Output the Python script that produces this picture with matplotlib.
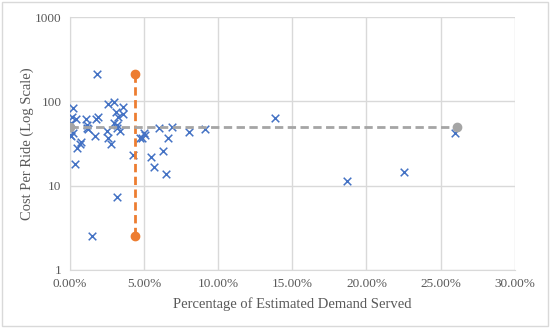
import matplotlib.pyplot as plt
from matplotlib.ticker import FuncFormatter, FixedLocator
from matplotlib.patches import Rectangle

# share of estimated demand served (%) and cost per ride
pct = [1.82, 0.20, 0.13, 0.40, 0.07, 0.20, 0.67, 0.47, 0.34, 1.08,
       1.15, 1.15, 1.20, 1.90, 1.75, 1.70, 2.50, 2.56, 2.80, 2.56,
       2.96, 3.10, 3.23, 3.57, 3.57, 3.00, 3.20, 3.20, 3.40, 4.25,
       4.85, 5.00, 5.10, 4.70, 6.00, 6.90, 6.60, 5.50, 6.30, 8.00,
       9.10, 5.70, 6.50, 3.20, 1.48, 13.8, 26.0, 18.7, 22.5, 0.00,
       0.74, 0.05]
cost = [210, 83, 65, 61, 38.5, 42, 31, 28, 18, 61,
        53, 48, 46.5, 66, 61, 38.5, 44, 36.5, 31, 92,
        97, 74, 66, 85, 70, 56, 52, 48, 44, 23,
        37, 42, 40, 36.5, 48, 49, 37, 22, 25.5, 43,
        46.5, 16.8, 13.8, 7.3, 2.5, 63, 42, 11.2, 14.5, 40,
        33, 55]

orange_x = [4.38, 4.38]
orange_y = [210, 2.5]
gray_x = [0.0, 26.1]
gray_y = [49, 49]

xticks = [0, 5, 10, 15, 20, 25, 30]
yticks = [1, 10, 100, 1000]

plt.rcParams['font.family'] = ['Liberation Serif', 'DejaVu Serif']
txt = '#595959'
grid = '#D9D9D9'

fig = plt.figure(figsize=(5.5, 3.28), dpi=100)
ax = fig.add_axes([0.127, 0.177, 0.809, 0.771])

ax.scatter(pct, cost, marker='x', s=30, color='#4472C4', linewidths=1.1, zorder=3)
ax.plot(orange_x, orange_y, color='#ED7D31', linestyle=(0, (3, 1.6)), linewidth=2,
        marker='o', markersize=6, zorder=4)
ax.plot(gray_x, gray_y, color='#A5A5A5', linestyle=(0, (3, 1.6)), linewidth=2,
        marker='o', markersize=6, zorder=4)

ax.set_yscale('log')
ax.set_xlim(0, 30)
ax.set_ylim(1, 1000)
ax.xaxis.set_major_locator(FixedLocator(xticks))
ax.yaxis.set_major_locator(FixedLocator(yticks))
ax.yaxis.set_minor_locator(FixedLocator([]))
ax.xaxis.set_major_formatter(FuncFormatter(lambda v, p: '%.2f%%' % v))
ax.yaxis.set_major_formatter(FuncFormatter(lambda v, p: '%d' % v))
ax.grid(True, color=grid, linewidth=1)
ax.set_axisbelow(True)
for s in ax.spines.values():
    s.set_visible(False)
ax.spines['bottom'].set_visible(True)
ax.spines['bottom'].set_color(grid)
ax.spines['left'].set_visible(True)
ax.spines['left'].set_color(grid)
ax.tick_params(length=0, labelsize=9.5, colors=txt, pad=6)

ax.set_xlabel('Percentage of Estimated Demand Served', fontsize=10.5, color=txt, labelpad=5)
ax.set_ylabel('Cost Per Ride (Log Scale)', fontsize=10.5, color=txt, labelpad=1)

fig.patches.append(Rectangle((0.004, 0.006), 0.992, 0.988, transform=fig.transFigure,
                             fill=False, edgecolor='#D9D9D9', linewidth=1))

fig.savefig('out.png', dpi=100)
